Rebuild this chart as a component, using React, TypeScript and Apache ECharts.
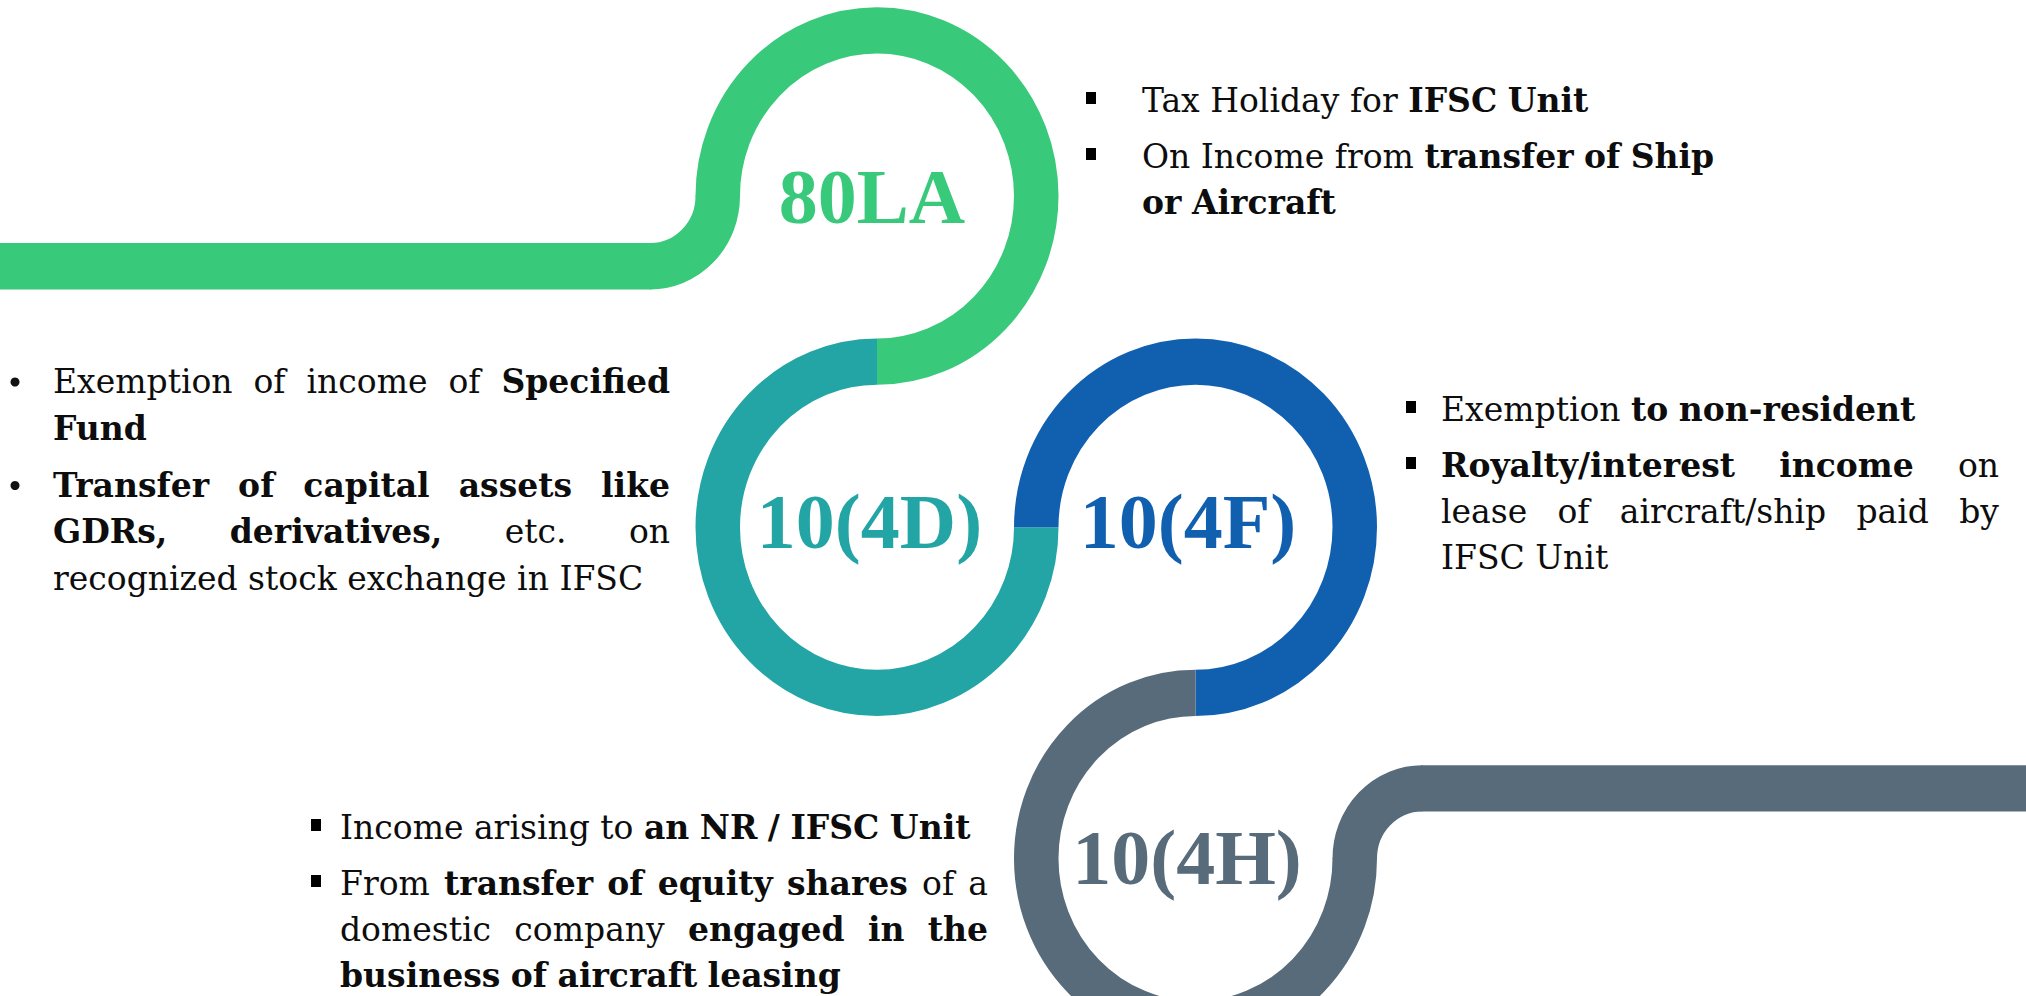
import React, { useEffect, useRef } from 'react';
import * as echarts from 'echarts';

const W = 2026;
const H = 996;

// ---- content ----
const ringLabels = ['80LA', '10(4D)', '10(4F)', '10(4H)'];
const ringColors = ['#38C97A', '#23A5A6', '#1160B0', '#576B7B'];

type Seg = [string, boolean]; // [text, bold]

const text80LA: Seg[][][] = [
  [[['Tax Holiday for ', false], ['IFSC Unit', true]]],
  [[['On Income from ', false], ['transfer of Ship', true]], [['or Aircraft', true]]],
];
const text4D: Seg[][][] = [
  [[['Exemption of income of ', false], ['Specified', true]], [['Fund', true]]],
  [
    [['Transfer of capital assets like', true]],
    [['GDRs, derivatives,', true], [' etc. on', false]],
    [['recognized stock exchange in IFSC', false]],
  ],
];
const text4F: Seg[][][] = [
  [[['Exemption ', false], ['to non-resident', true]]],
  [
    [['Royalty/interest income', true], [' on', false]],
    [['lease of aircraft/ship paid by', false]],
    [['IFSC Unit', false]],
  ],
];
const text4H: Seg[][][] = [
  [[['Income arising to ', false], ['an NR / IFSC Unit', true]]],
  [
    [['From ', false], ['transfer of equity shares', true], [' of a', false]],
    [['domestic company ', false], ['engaged in the', true]],
    [['business of aircraft leasing', true]],
  ],
];

// ---- styling / layout ----
const FONT = '"DejaVu Serif"';
const FS = 33;
const LABEL_FONT = '"Liberation Serif"';
const LABEL_FS = 78;
const SY = 1.04; // vertical stretch of the drawing
const R = 159.25; // mid radius of rings
const LW = 44.5; // band width
const CR = 67.5; // corner radius

type Block = {
  paras: Seg[][][];
  x: number;
  width: number;
  justify: boolean;
  bullet: 'square' | 'dot';
  bulletX: number;
  baseline0: number;
  lineGap: number;
  paraGap: number;
};

const blocks: Block[] = [
  { paras: text80LA, x: 1142, width: 600, justify: false, bullet: 'square', bulletX: 1091, baseline0: 112, lineGap: 46, paraGap: 56 },
  { paras: text4D, x: 53, width: 617, justify: true, bullet: 'dot', bulletX: 15, baseline0: 393, lineGap: 46.5, paraGap: 57 },
  { paras: text4F, x: 1441, width: 558, justify: true, bullet: 'square', bulletX: 1411, baseline0: 421, lineGap: 46, paraGap: 56 },
  { paras: text4H, x: 340, width: 648, justify: true, bullet: 'square', bulletX: 316, baseline0: 839, lineGap: 46, paraGap: 56 },
];

function buildElements() {
  const canvas = document.createElement('canvas');
  const ctx = canvas.getContext('2d')!;
  const measure = (t: string, bold: boolean) => {
    ctx.font = `${bold ? 'bold ' : ''}${FS}px ${FONT}`;
    return ctx.measureText(t).width;
  };
  const spaceW = measure(' ', false);

  const els: any[] = [];

  // ---- ribbon shapes (drawn in a vertically scaled group) ----
  const c1 = { x: 877, y: 188.5 };
  const c2 = { x: c1.x, y: c1.y + 2 * R };
  const c3 = { x: c2.x + 2 * R, y: c2.y };
  const c4 = { x: c3.x, y: c3.y + 2 * R };
  const arc = (cx: number, cy: number, s: number, e: number, color: string) => ({
    type: 'arc',
    silent: true,
    shape: { cx, cy, r: R, startAngle: s, endAngle: e, clockwise: true },
    style: { stroke: color, lineWidth: LW, fill: 'none' },
  });
  const PI = Math.PI;
  const eps = 0.004;
  const g1x = c1.x - R - CR; // green corner centre x
  const g4x = c4.x + R + CR; // gray corner centre x
  const shapes: any[] = [
    { type: 'line', silent: true, shape: { x1: -20, y1: c1.y + CR, x2: g1x + 1, y2: c1.y + CR }, style: { stroke: ringColors[0], lineWidth: LW } },
    { type: 'arc', silent: true, shape: { cx: g1x, cy: c1.y, r: CR, startAngle: -eps, endAngle: PI / 2 + eps, clockwise: true }, style: { stroke: ringColors[0], lineWidth: LW, fill: 'none' } },
    arc(c1.x, c1.y, PI - eps, PI * 2.5, ringColors[0]),
    arc(c2.x, c2.y, 0, PI * 1.5, ringColors[1]),
    arc(c3.x, c3.y, PI, PI * 2.5, ringColors[2]),
    arc(c4.x, c4.y, 0 - eps, PI * 1.5, ringColors[3]),
    { type: 'arc', silent: true, shape: { cx: g4x, cy: c4.y, r: CR, startAngle: PI - eps, endAngle: PI * 1.5 + eps, clockwise: true }, style: { stroke: ringColors[3], lineWidth: LW, fill: 'none' } },
    { type: 'line', silent: true, shape: { x1: g4x - 1, y1: c4.y - CR, x2: W + 30, y2: c4.y - CR }, style: { stroke: ringColors[3], lineWidth: LW } },
  ];
  els.push({ type: 'group', x: 0, y: 0, scaleX: 1, scaleY: SY, children: shapes });

  // ---- ring labels ----
  const labelPos = [
    [872, 196],
    [869.5, 521.5],
    [1188, 521],
    [1187, 857],
  ];
  ringLabels.forEach((t, i) => {
    els.push({
      type: 'text',
      silent: true,
      x: labelPos[i][0],
      y: labelPos[i][1],
      style: {
        text: t,
        fill: ringColors[i],
        fontFamily: LABEL_FONT,
        fontWeight: 'bold',
        fontSize: LABEL_FS,
        align: 'center',
        verticalAlign: 'middle',
      },
    });
  });

  // ---- bullet text blocks ----
  blocks.forEach((b) => {
    let baseline = b.baseline0;
    b.paras.forEach((para, pi) => {
      if (pi > 0) baseline += b.paraGap - b.lineGap;
      para.forEach((line, li) => {
        if (li > 0 || pi > 0) baseline += b.lineGap;
        if (li === 0) {
          if (b.bullet === 'square') {
            els.push({ type: 'rect', silent: true, shape: { x: b.bulletX - 5, y: baseline - 20, width: 10, height: 12 }, style: { fill: '#000' } });
          } else {
            els.push({ type: 'circle', silent: true, shape: { cx: b.bulletX, cy: baseline - 11, r: 4.5 }, style: { fill: '#111' } });
          }
        }
        const words: { t: string; bold: boolean; w: number }[] = [];
        line.forEach(([t, bold]) => {
          t.split(' ').filter((s) => s.length > 0).forEach((s) => words.push({ t: s, bold, w: measure(s, bold) }));
        });
        const isLast = li === para.length - 1;
        const total = words.reduce((a, w) => a + w.w, 0);
        const gap = b.justify && !isLast && words.length > 1 ? (b.width - total) / (words.length - 1) : spaceW;
        let x = b.x;
        words.forEach((w) => {
          els.push({
            type: 'text',
            silent: true,
            x,
            y: baseline - 11.4,
            style: {
              text: w.t,
              fill: '#0d0d0d',
              fontFamily: FONT,
              fontSize: FS,
              fontWeight: w.bold ? 'bold' : 'normal',
              align: 'left',
              verticalAlign: 'middle',
            },
          });
          x += w.w + gap;
        });
      });
    });
  });

  return els;
}

export default function App() {
  const ref = useRef<HTMLDivElement>(null);
  useEffect(() => {
    document.body.style.margin = '0';
    document.body.style.overflow = 'hidden';
    const chart = echarts.init(ref.current!, null, { renderer: 'svg' });
    chart.setOption({
      animation: false,
      backgroundColor: '#ffffff',
      graphic: { elements: buildElements() },
    });
    return () => chart.dispose();
  }, []);
  return <div ref={ref} style={{ width: W, height: H }} />;
}
